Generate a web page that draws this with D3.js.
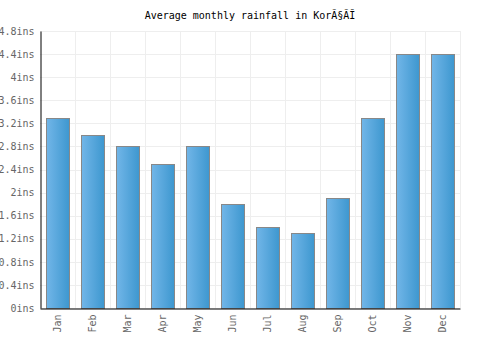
<!DOCTYPE html>
<html>
<head>
<meta charset="utf-8">
<script src="https://cdn.jsdelivr.net/npm/d3@7"></script>
<style>
  body { margin: 0; background: #fff; }
  text { font-family: "DejaVu Sans Mono", monospace; }
</style>
</head>
<body>
<svg id="chart"></svg>
<script>
// data
const months = ["Jan","Feb","Mar","Apr","May","Jun","Jul","Aug","Sep","Oct","Nov","Dec"];
const rainfall = [3.3, 3.0, 2.8, 2.5, 2.8, 1.8, 1.4, 1.3, 1.9, 3.3, 4.4, 4.4];
const yTicks = [0, 0.4, 0.8, 1.2, 1.6, 2, 2.4, 2.8, 3.2, 3.6, 4, 4.4, 4.8];
const title = "Average monthly rainfall in Kor\u00C3\u00A7\u00C3\u012C";

const width = 500, height = 350;
const margin = { left: 40, right: 40, top: 31, bottom: 42 };

const svg = d3.select("#chart").attr("width", width).attr("height", height);

const x = d3.scaleBand().domain(months).range([margin.left, width - margin.right]).paddingInner(0.34).paddingOuter(0.17);
const xb = d3.scaleBand().domain(months).range([margin.left, width - margin.right]);
const y = d3.scaleLinear().domain([0, 4.8]).range([height - margin.bottom, margin.top]);

const defs = svg.append("defs");
const grad = defs.append("linearGradient").attr("id", "barGrad").attr("x1", "0%").attr("x2", "100%");
grad.append("stop").attr("offset", "0%").attr("stop-color", "#72b6e8");
grad.append("stop").attr("offset", "100%").attr("stop-color", "#3d97cf");

// grid
svg.append("g").selectAll("line").data(yTicks).join("line")
  .attr("x1", margin.left).attr("x2", width - margin.right)
  .attr("y1", d => Math.round(y(d)) + 0.5).attr("y2", d => Math.round(y(d)) + 0.5)
  .attr("stroke", "#eeeeee");
svg.append("g").selectAll("line").data(months.slice(1)).join("line")
  .attr("x1", d => Math.round(xb(d)) + 0.5).attr("x2", d => Math.round(xb(d)) + 0.5)
  .attr("y1", margin.top).attr("y2", height - margin.bottom)
  .attr("stroke", "#eeeeee");
svg.append("line")
  .attr("x1", width - margin.right + 0.5).attr("x2", width - margin.right + 0.5)
  .attr("y1", margin.top).attr("y2", height - margin.bottom)
  .attr("stroke", "#eeeeee");

// bars
svg.append("g").selectAll("rect").data(rainfall).join("rect")
  .attr("x", (d, i) => Math.round(x(months[i])) + 0.5)
  .attr("y", d => Math.round(y(d)) + 0.5)
  .attr("width", Math.round(x.bandwidth()))
  .attr("height", d => Math.round(y(0)) - Math.round(y(d)))
  .attr("fill", "url(#barGrad)")
  .attr("stroke", "#888888")
  .attr("stroke-width", 1);

// y axis
const yAxis = svg.append("g").attr("transform", `translate(${margin.left + 0.5},0)`)
  .call(d3.axisLeft(y).tickValues(yTicks).tickSize(0).tickPadding(6).tickFormat(d => d3.format("~g")(d) + "ins"));
yAxis.select(".domain").attr("stroke", "#000");
yAxis.selectAll("text").attr("fill", "#666").attr("font-size", 10).attr("font-family", "DejaVu Sans Mono, monospace");

// x axis
const xAxis = svg.append("g").attr("transform", `translate(0,${height - margin.bottom + 0.5})`)
  .call(d3.axisBottom(xb).tickSize(0).tickPadding(0));
xAxis.select(".domain").attr("stroke", "#000");
xAxis.selectAll("text")
  .attr("fill", "#666").attr("font-size", 10).attr("font-family", "DejaVu Sans Mono, monospace")
  .attr("text-anchor", "end").attr("dy", "0.35em")
  .attr("transform", "translate(0,6) rotate(-90)");

// title
svg.append("text").attr("x", width / 2).attr("y", 19).attr("text-anchor", "middle")
  .attr("font-size", 10).attr("fill", "#000").text(title);
</script>
</body>
</html>
